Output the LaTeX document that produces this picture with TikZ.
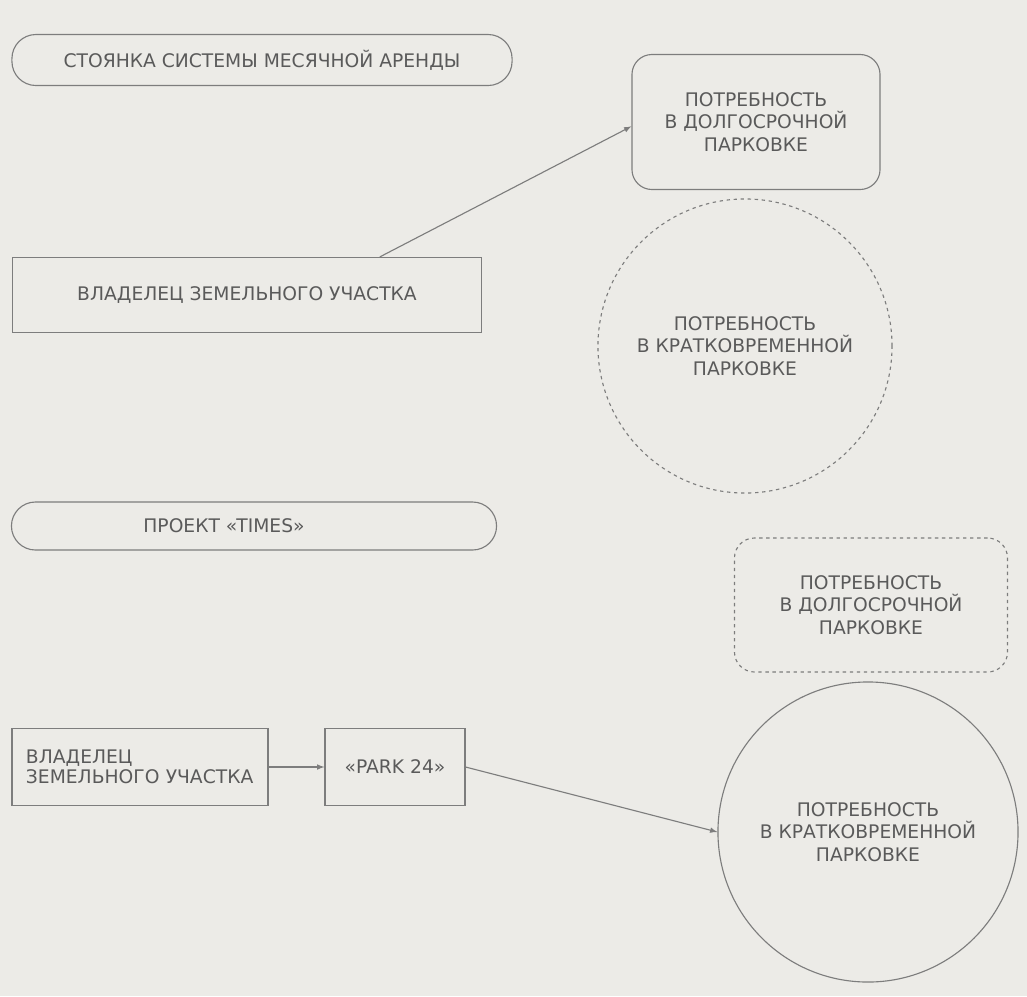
\documentclass[tikz,border=0pt]{standalone}
\usepackage{fontspec}
\setmainfont{DejaVu Sans}
\usetikzlibrary{arrows}
\definecolor{paper}{RGB}{236,235,231}
\definecolor{ink}{RGB}{90,90,90}
\definecolor{rule}{RGB}{125,125,125}
\tikzset{
  txt/.style={text=ink, font=\fontsize{13.3}{16}\selectfont, align=center},
  pill/.style={txt, draw=rule, line width=0.8pt, rounded corners=0.6cm},
  plainbox/.style={txt, draw=rule, line width=0.8pt},
  softbox/.style={txt, draw=rule, line width=0.8pt, rounded corners=0.5cm},
  dots/.style={dash pattern=on 2.4pt off 2.6pt},
  need/.style={txt, draw=rule, line width=0.8pt, circle, inner sep=0pt},
  link/.style={draw=rule, line width=0.8pt, -latex}
}
\begin{document}
\begin{tikzpicture}[x=0.025cm, y=-0.025cm]
\fill[paper] (0,0) rectangle (1027,996);
\useasboundingbox (0,0) rectangle (1027,996);

% upper scheme
\node[pill, minimum width=12.5cm, minimum height=1.275cm] (monthly) at (262,60)
{СТОЯНКА СИСТЕМЫ МЕСЯЧНОЙ АРЕНДЫ};
\node[softbox, minimum width=6.2cm, minimum height=3.375cm] (longA) at (756,122)
{ПОТРЕБНОСТЬ\\В ДОЛГОСРОЧНОЙ\\ПАРКОВКЕ};
\node[plainbox, minimum width=11.725cm, minimum height=1.875cm] (owner) at (247,295)
{ВЛАДЕЛЕЦ ЗЕМЕЛЬНОГО УЧАСТКА};
\node[need, dots, minimum size=7.35cm] (shortA) at (745,346)
{ПОТРЕБНОСТЬ\\В КРАТКОВРЕМЕННОЙ\\ПАРКОВКЕ};
\draw[link] (owner.16)--(longA.182);

% lower scheme
\node[pill, minimum width=12.125cm, minimum height=1.2cm] (times) at (254,526) {};
\node[txt] (timesname) at ([xshift=-0.75cm]times.center) {ПРОЕКТ «TIMES»};
\node[softbox, dots, minimum width=6.825cm, minimum height=3.35cm] (longB) at (871,605)
{ПОТРЕБНОСТЬ\\В ДОЛГОСРОЧНОЙ\\ПАРКОВКЕ};
\node[plainbox, align=left, text width=5.7cm, inner xsep=0.35cm, minimum height=1.925cm,
font=\fontsize{13.3}{14.5}\selectfont] (owner2) at (140,767)
{ВЛАДЕЛЕЦ\\ЗЕМЕЛЬНОГО УЧАСТКА};
\node[plainbox, minimum width=3.5cm, minimum height=1.925cm] (park) at (395,767)
{«PARK 24»};
\node[need, minimum size=7.5cm] (shortB) at (868,832)
{ПОТРЕБНОСТЬ\\В КРАТКОВРЕМЕННОЙ\\ПАРКОВКЕ};
\draw[link] (owner2.east)--(park.west);
\draw[link] (park.east)--(shortB.west);

\end{tikzpicture}
\end{document}
